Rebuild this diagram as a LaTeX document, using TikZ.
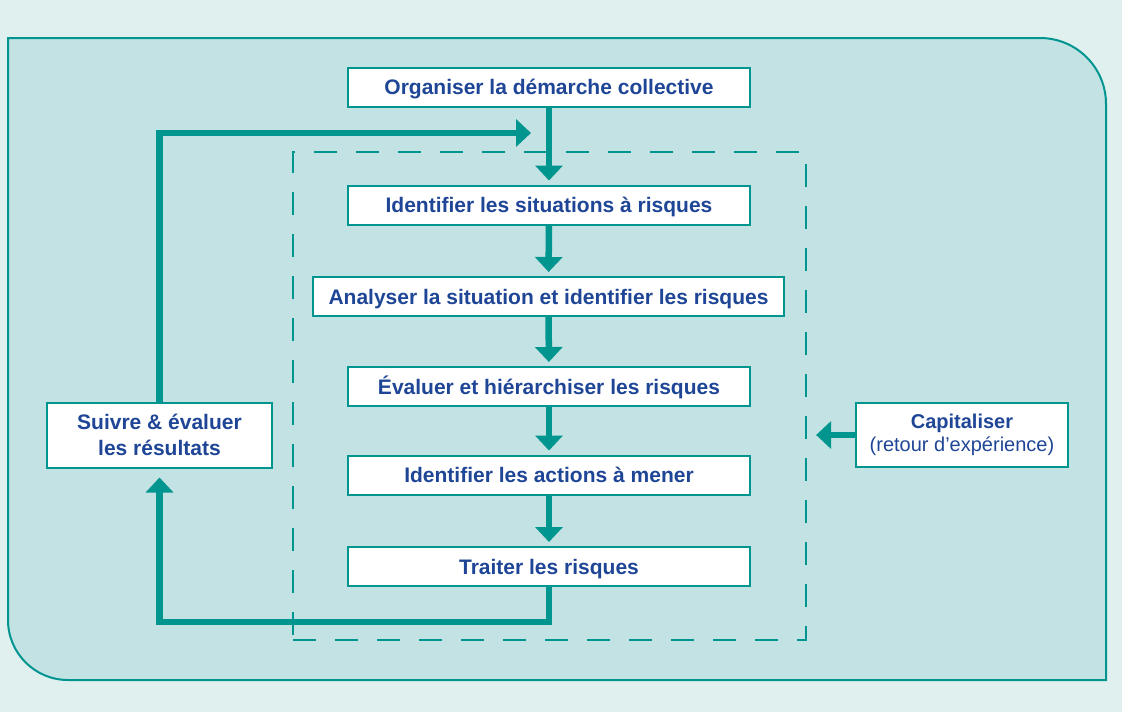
\documentclass[tikz,border=0pt]{standalone}
\usepackage{fontspec}
\setmainfont{Liberation Sans}
\usepackage{tikz}
\usetikzlibrary{arrows.meta}
\definecolor{loopteal}{HTML}{00958E}
\definecolor{panelcyan}{HTML}{C3E2E3}
\definecolor{pagecyan}{HTML}{DFF0EF}
\definecolor{stepblue}{HTML}{1F4696}

\begin{document}
\begin{tikzpicture}[
    x=1pt, y=1pt,
    >={Triangle[width=27pt, length=15pt]},
    sidebox/.style={draw=loopteal, line width=2pt, fill=white, inner sep=0pt, align=center, text=stepblue, font=\fontsize{21}{26}\selectfont\bfseries},
    stepbox/.style={sidebox, minimum width=402pt, minimum height=39pt, text height=15pt, text depth=0pt},
    flow/.style={->, loopteal, line width=6.5pt, shorten >=4pt},
    zone/.style={draw=loopteal, line width=2.2pt, dash pattern=on 23pt off 19pt}
]

% ---- Page and panel ----
\fill[pagecyan] (0,0) rectangle (1122,-712);
\useasboundingbox (0,0) rectangle (1122,-712);
\draw[loopteal, line width=2pt, fill=panelcyan] (8,-38) -- (1040,-38) arc[start angle=90, end angle=0, radius=66pt] -- (1106,-680) -- (68,-680) arc[start angle=270, end angle=180, radius=60pt] -- cycle;

% ---- Risk analysis zone ----
\node[zone, minimum width=513pt, minimum height=488pt] (zone) at (549.5,-396) {};

% ---- Steps ----
\node[stepbox] (organiser) at (549,-87) {Organiser la démarche collective};
\node[stepbox] (situations) at (549,-205) {Identifier les situations à risques};
\node[stepbox, minimum width=471pt] (analyser) at (548.5,-296.5) {Analyser la situation et identifier les risques};
\node[stepbox] (evaluer) at (549,-386.5) {Évaluer et hiérarchiser les risques};
\node[stepbox] (actions) at (549,-475) {Identifier les actions à mener};
\node[stepbox] (traiter) at (549,-566.5) {Traiter les risques};

% ---- Side boxes ----
\node[sidebox, minimum width=225pt, minimum height=65pt] (suivre) at (159.5,-435) {Suivre \& évaluer\\les résultats};
\node[sidebox, minimum width=212pt, minimum height=64pt, font=\fontsize{20}{23}\selectfont] (capital) at (962,-435) {{\bfseries Capitaliser}\\(retour d’expérience)};

% ---- Main chain ----
\draw[flow] (organiser) -- (situations);
\draw[flow] (situations) -- (analyser);
\draw[flow] (analyser) -- (evaluer);
\draw[flow] (evaluer) -- (actions);
\draw[flow] (actions) -- (traiter);

% ---- Feedback loop ----
\coordinate (entry) at (531,-133);
\draw[flow, shorten >=9pt] (traiter.south) -- ++(0,-35) -| (suivre.south);
\draw[flow, shorten >=0pt] (suivre.north) |- (entry);
\draw[flow, shorten >=9pt] (capital.west) -- (zone.east |- capital.west);

\end{tikzpicture}
\end{document}
